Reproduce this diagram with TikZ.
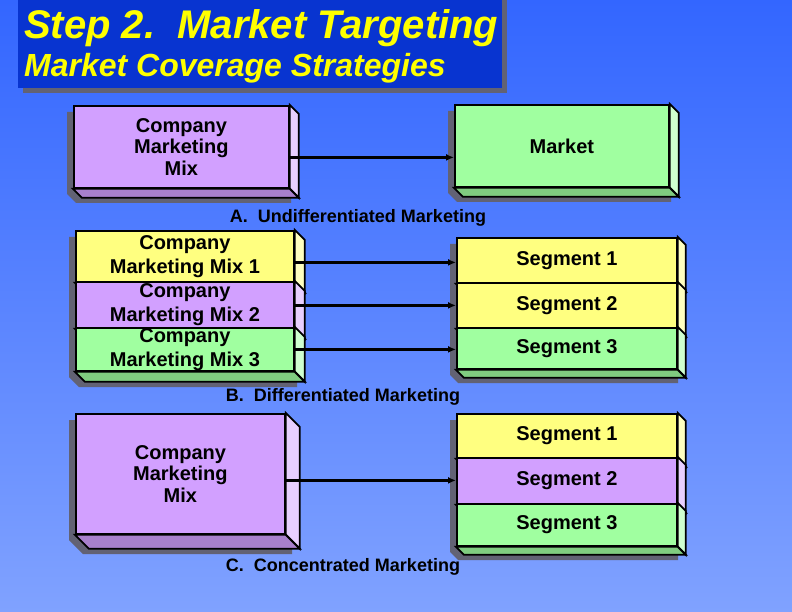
\documentclass[tikz,border=0pt]{standalone}
\usepackage{fontspec}
\setmainfont{Liberation Sans}
\usetikzlibrary{arrows.meta}
\definecolor{bgtop}{RGB}{51,102,255}
\definecolor{bgbot}{RGB}{128,162,255}
\definecolor{headblue}{RGB}{8,52,208}
\definecolor{headtext}{RGB}{255,255,0}
\definecolor{dropgray}{RGB}{98,98,116}
\definecolor{mixpurple}{RGB}{210,160,255}
\definecolor{segyellow}{RGB}{255,255,128}
\definecolor{seggreen}{RGB}{160,255,160}
\tikzstyle{face}=[draw=black,line width=1.8pt,anchor=north west,inner sep=0pt,align=center,font=\fontsize{20}{21.5}\selectfont\bfseries]
\tikzstyle{side}=[draw=black,line width=1.8pt]
\tikzstyle{shadow}=[fill=dropgray]
\tikzstyle{link}=[draw=black,line width=2.4pt,-{Latex[length=8pt,width=7pt]}]
\tikzstyle{caption}=[inner sep=0pt,font=\fontsize{18}{20}\selectfont\bfseries]
\tikzstyle{headline}=[inner sep=0pt,anchor=base west,text=headtext]
% 3D slab: [opts]{name}{nw corner}{width}{height}{depth}{colour}{text}
\newcommand{\slab}[8][]{%
  \node[face,fill=#7,minimum width=#4pt,minimum height=#5pt,#1] (#2) at #3 {#8};
  \filldraw[side,fill=#7!50!white] (#2.north east) -- ++(#6,#6) -- ([shift={(#6,#6)}]#2.south east) -- (#2.south east) -- cycle;
  \filldraw[side,fill=#7!80!black] (#2.south west) -- (#2.south east) -- ++(#6,#6) -- ([shift={(#6,#6)}]#2.south west) -- cycle;
}
% drop shadow under a slab or a stack: {x}{y}{width}{height}{depth}
\newcommand{\drop}[5]{%
  \fill[shadow] (#1-6,#2+7) -- ++(#3,0) -- ++(#5,#5) -- ++(0,#4) -- ++(-#3,0) -- ++(-#5,-#5) -- cycle;
}

\begin{document}
\begin{tikzpicture}[x=1pt,y=-1pt]
  \useasboundingbox (0,0) rectangle (792,612);
  \shade[top color=bgtop,bottom color=bgbot] (0,0) rectangle (792,612);

  % heading
  \fill[shadow] (23,-5) rectangle (507,93);
  \fill[headblue] (18,-5) rectangle (502,88);
  \node[headline,font=\fontsize{40}{40}\selectfont\bfseries\itshape] (head1) at (24,39) {Step 2.\ \ Market Targeting};
  \node[headline,font=\fontsize{32}{32}\selectfont\bfseries\itshape] (head2) at (24,77) {Market Coverage Strategies};

  % shadows
  \drop{73}{105}{215}{82}{9}
  \drop{454}{104}{214}{82}{9}
  \drop{75}{230}{218}{140}{10}
  \drop{456}{237}{220}{131}{8}
  \drop{75}{413}{209}{120}{14}
  \drop{456}{413}{220}{132}{8}

  % A. undifferentiated
  \slab{mix0}{(73,105)}{215}{82}{9}{mixpurple}{Company\\Marketing\\Mix}
  \slab{market}{(454,104)}{214}{82}{9}{seggreen}{Market}
  \coordinate (from0) at ([shift={(0,10.5)}]mix0.east);
  \draw[link] (from0) -- (from0 -| market.west);
  \node[caption] (capA) at (358,218) {A.\ \ Undifferentiated Marketing};

  % B. differentiated
  \slab[font=\fontsize{20}{24}\selectfont\bfseries]{mixB1}{(75,230)}{218}{51}{10}{segyellow}{Company\\Marketing Mix 1}
  \slab[font=\fontsize{20}{24}\selectfont\bfseries]{mixB2}{(75,281)}{218}{46}{10}{mixpurple}{Company\\Marketing Mix 2}
  \slab[font=\fontsize{20}{24}\selectfont\bfseries]{mixB3}{(75,327)}{218}{43}{10}{seggreen}{Company\\Marketing Mix 3}
  \slab{segB1}{(456,237)}{220}{45}{8}{segyellow}{Segment 1}
  \slab{segB2}{(456,282)}{220}{45}{8}{segyellow}{Segment 2}
  \slab{segB3}{(456,327)}{220}{41}{8}{seggreen}{Segment 3}
  \foreach \i/\dy in {1/6,2/0.5,3/0}{
    \coordinate (fromB\i) at ([shift={(0,\dy)}]mixB\i.east);
    \draw[link] (fromB\i) -- (fromB\i -| segB\i.west);
  }
  \node[caption] (capB) at (343,397) {B.\ \ Differentiated Marketing};

  % C. concentrated
  \slab{mixC}{(75,413)}{209}{120}{14}{mixpurple}{Company\\Marketing\\Mix}
  \slab{segC1}{(456,413)}{220}{44}{8}{segyellow}{Segment 1}
  \slab{segC2}{(456,457)}{220}{46}{8}{mixpurple}{Segment 2}
  \slab{segC3}{(456,503)}{220}{42}{8}{seggreen}{Segment 3}
  \coordinate (fromC) at ([shift={(0,6.5)}]mixC.east);
  \draw[link] (fromC) -- (fromC -| segC2.west);
  \node[caption] (capC) at (343,567) {C.\ \ Concentrated Marketing};
\end{tikzpicture}
\end{document}
